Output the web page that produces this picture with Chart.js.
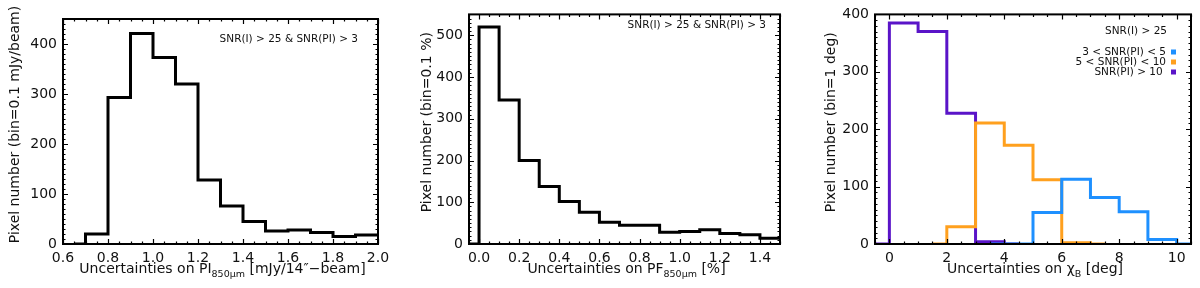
<!DOCTYPE html>
<html>
<head>
<meta charset="utf-8">
<script src="https://cdn.jsdelivr.net/npm/chart.js@4.4.1/dist/chart.umd.min.js"></script>
<style>
  html, body { margin: 0; padding: 0; background: #fff; }
  #wrap { position: relative; width: 1200px; height: 288px; }
  #wrap canvas { position: absolute; top: 0; }
</style>
</head>
<body>
<div id="wrap">
  <canvas id="c1" width="400" height="288" style="left:0"></canvas>
  <canvas id="c2" width="400" height="288" style="left:400px"></canvas>
  <canvas id="c3" width="400" height="288" style="left:800px"></canvas>
</div>
<script>
// panel 1: uncertainties on PI (bin edges, counts per bin)
const piEdges  = [0.65, 0.7, 0.8, 0.9, 1.0, 1.1, 1.2, 1.3, 1.4, 1.5, 1.6, 1.7, 1.8, 1.9, 2.0];
const piCounts = [0, 20, 293, 421, 373, 320, 128, 76, 45, 26, 28, 23, 15, 18];
const piXTicks = [0.6, 0.8, 1.0, 1.2, 1.4, 1.6, 1.8, 2.0];
const piYTicks = [0, 100, 200, 300, 400];

// panel 2: uncertainties on PF
const pfEdges  = [-0.05, 0.0, 0.1, 0.2, 0.3, 0.4, 0.5, 0.6, 0.7, 0.8, 0.9, 1.0, 1.1, 1.2, 1.3, 1.4, 1.5];
const pfCounts = [0, 520, 345, 200, 138, 102, 76, 52, 45, 45, 28, 30, 34, 25, 22, 14];
const pfXTicks = [0.0, 0.2, 0.4, 0.6, 0.8, 1.0, 1.2, 1.4];
const pfYTicks = [0, 100, 200, 300, 400, 500];

// panel 3: uncertainties on chi_B, three SNR(PI) classes
const chiLowEdges  = [3.5, 4, 5, 6, 7, 8, 9, 10, 10.5];
const chiLowCounts = [0, 0, 55, 113, 81, 56, 8, 0];
const chiMidEdges  = [1.5, 2, 3, 4, 5, 6, 7, 7.5];
const chiMidCounts = [0, 30, 211, 172, 112, 2, 0];
const chiHighEdges  = [-0.5, 0, 1, 2, 3, 4, 4.5];
const chiHighCounts = [0, 385, 370, 228, 4, 0];
const chiXTicks = [0, 2, 4, 6, 8, 10];
const chiYTicks = [0, 100, 200, 300, 400];
const chiLabels = ['3 < SNR(PI) < 5', '5 < SNR(PI) < 10', 'SNR(PI) > 10 '];
const chiColors = ['#1e90ff', '#ffa01e', '#5a14c8'];

const FONT = '"DejaVu Sans", sans-serif';

// histogram outline: last bin value repeated at the closing edge
function steps(edges, counts) {
  return edges.map((x, i) => ({ x, y: counts[Math.min(i, counts.length - 1)] }));
}

// IDL-like box with inward major/minor ticks on all four sides
const idlFrame = {
  id: 'idlFrame',
  afterDraw(chart, args, o) {
    const { ctx, chartArea: a, scales: { x, y } } = chart;
    ctx.save();
    ctx.strokeStyle = '#000';
    ctx.lineWidth = 1.2;
    ctx.beginPath();
    const eps = 1e-6;
    let v0 = Math.ceil(x.min / o.xMinor - eps) * o.xMinor;
    for (let v = v0; v <= x.max + eps; v += o.xMinor) {
      const px = Math.round(x.getPixelForValue(v)) + 0.5;
      const major = Math.abs(v / o.xMajor - Math.round(v / o.xMajor)) < 1e-4;
      const len = major ? 5 : 2.5;
      ctx.moveTo(px, a.bottom); ctx.lineTo(px, a.bottom - len);
      ctx.moveTo(px, a.top); ctx.lineTo(px, a.top + len);
    }
    v0 = Math.ceil(y.min / o.yMinor - eps) * o.yMinor;
    for (let v = v0; v <= y.max + eps; v += o.yMinor) {
      const py = Math.round(y.getPixelForValue(v)) + 0.5;
      const major = Math.abs(v / o.yMajor - Math.round(v / o.yMajor)) < 1e-4;
      const len = major ? 5 : 2.5;
      ctx.moveTo(a.left, py); ctx.lineTo(a.left + len, py);
      ctx.moveTo(a.right, py); ctx.lineTo(a.right - len, py);
    }
    ctx.stroke();
    ctx.lineWidth = 2;
    ctx.strokeRect(a.left, a.top, a.right - a.left, a.bottom - a.top);
    ctx.restore();
  }
};

// axis titles (with subscripts) and in-plot notes
const idlText = {
  id: 'idlText',
  afterDraw(chart, args, o) {
    const { ctx, chartArea: a } = chart;
    const big = '14px ' + FONT, small = '9.5px ' + FONT;
    ctx.save();
    ctx.fillStyle = '#111';
    ctx.textBaseline = 'alphabetic';
    let w = 0;
    o.xTitle.forEach(p => { ctx.font = p.sub ? small : big; w += ctx.measureText(p.t).width; });
    let tx = (a.left + a.right) / 2 - w / 2 + 2;
    o.xTitle.forEach(p => {
      ctx.font = p.sub ? small : big;
      ctx.fillText(p.t, tx, p.sub ? 277 : 273);
      tx += ctx.measureText(p.t).width;
    });

    ctx.save();
    ctx.translate(o.yTitleX, (a.top + a.bottom) / 2 - 7);
    ctx.rotate(-Math.PI / 2);
    ctx.textAlign = 'center';
    ctx.textBaseline = 'middle';
    ctx.font = big;
    ctx.fillText(o.yTitle, 0, 0);
    ctx.restore();

    ctx.font = '10.5px ' + FONT;
    ctx.textAlign = 'right';
    ctx.textBaseline = 'middle';
    (o.notes || []).forEach(n => {
      ctx.fillStyle = '#111';
      ctx.fillText(n.text, n.x, n.y);
      if (n.box) {
        ctx.fillStyle = n.box;
        ctx.fillRect(n.x + 5, n.y - 2.5, 5, 5);
      }
    });
    ctx.restore();
  }
};

function makeChart(id, cfg) {
  return new Chart(document.getElementById(id), {
    type: 'line',
    data: { datasets: cfg.datasets },
    options: {
      responsive: false,
      animation: false,
      layout: { padding: { left: 0, right: cfg.padRight, top: cfg.padTop, bottom: 0 } },
      elements: { point: { radius: 0 }, line: { tension: 0 } },
      plugins: {
        legend: { display: false },
        tooltip: { enabled: false },
        idlFrame: cfg.frame,
        idlText: cfg.text,
      },
      scales: {
        x: {
          type: 'linear', min: cfg.xMin, max: cfg.xMax,
          grid: { display: false, drawTicks: false },
          border: { display: false },
          ticks: {
            color: '#111', padding: 6, maxRotation: 0, autoSkip: false,
            font: { family: FONT, size: 14 },
            callback: cfg.xFmt,
          },
          afterBuildTicks: s => { s.ticks = cfg.xTicks.map(v => ({ value: v })); },
          afterFit: s => { s.height = 44; },
        },
        y: {
          type: 'linear', min: cfg.yMin, max: cfg.yMax,
          grid: { display: false, drawTicks: false },
          border: { display: false },
          ticks: {
            color: '#111', padding: 6,
            font: { family: FONT, size: 14 },
          },
          afterBuildTicks: s => { s.ticks = cfg.yTicks.map(v => ({ value: v })); },
          afterFit: s => { s.width = cfg.yWidth; },
        },
      },
    },
    plugins: [idlFrame, idlText],
  });
}

const histLine = (data, color) => ({
  data, borderColor: color, borderWidth: 3, stepped: 'before', fill: false,
});

makeChart('c1', {
  datasets: [histLine(steps(piEdges, piCounts), '#000')],
  xMin: 0.6, xMax: 2.0, yMin: 0, yMax: 450,
  xTicks: piXTicks, yTicks: piYTicks,
  xFmt: v => Number(v).toFixed(1),
  yWidth: 63, padRight: 22, padTop: 19,
  frame: { xMajor: 0.2, xMinor: 0.05, yMajor: 100, yMinor: 10 },
  text: {
    xTitle: [{ t: 'Uncertainties on PI' }, { t: '850\u03bcm', sub: true }, { t: ' [mJy/14\u2033\u2212beam]' }],
    yTitle: 'Pixel number (bin=0.1 mJy/beam)',
    yTitleX: 15,
    notes: [{ text: 'SNR(I) > 25 & SNR(PI) > 3', x: 358, y: 39 }],
  },
});

makeChart('c2', {
  datasets: [histLine(steps(pfEdges, pfCounts), '#000')],
  xMin: -0.05, xMax: 1.5, yMin: 0, yMax: 550,
  xTicks: pfXTicks, yTicks: pfYTicks,
  xFmt: v => Number(v).toFixed(1),
  yWidth: 69, padRight: 20, padTop: 13,
  frame: { xMajor: 0.2, xMinor: 0.05, yMajor: 100, yMinor: 10 },
  text: {
    xTitle: [{ t: 'Uncertainties on PF' }, { t: '850\u03bcm', sub: true }, { t: ' [%]' }],
    yTitle: 'Pixel number (bin=0.1 %)',
    yTitleX: 27,
    notes: [{ text: 'SNR(I) > 25 & SNR(PI) > 3', x: 366, y: 25 }],
  },
});

makeChart('c3', {
  datasets: [
    histLine(steps(chiLowEdges, chiLowCounts), chiColors[0]),
    histLine(steps(chiMidEdges, chiMidCounts), chiColors[1]),
    histLine(steps(chiHighEdges, chiHighCounts), chiColors[2]),
  ],
  xMin: -0.5, xMax: 10.5, yMin: 0, yMax: 400,
  xTicks: chiXTicks, yTicks: chiYTicks,
  xFmt: v => String(v),
  yWidth: 75, padRight: 9, padTop: 12,
  frame: { xMajor: 2, xMinor: 0.5, yMajor: 100, yMinor: 10 },
  text: {
    xTitle: [{ t: 'Uncertainties on \u03c7' }, { t: 'B', sub: true }, { t: ' [deg]' }],
    yTitle: 'Pixel number (bin=1 deg)',
    yTitleX: 31,
    notes: [
      { text: 'SNR(I) > 25', x: 367, y: 31 },
      { text: chiLabels[0], x: 366, y: 52, box: chiColors[0] },
      { text: chiLabels[1], x: 366, y: 62, box: chiColors[1] },
      { text: chiLabels[2], x: 366, y: 72, box: chiColors[2] },
    ],
  },
});
</script>
</body>
</html>
